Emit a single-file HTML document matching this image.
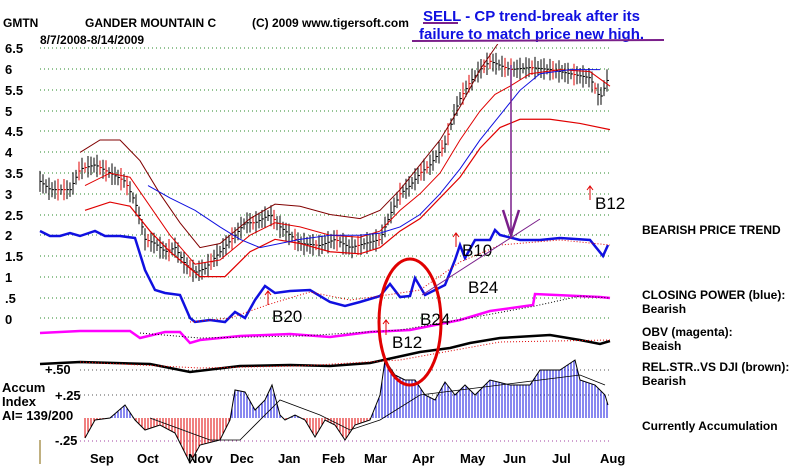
<!DOCTYPE html>
<html><head><meta charset="utf-8"><style>
body{margin:0;background:#fff;width:800px;height:468px;overflow:hidden}
svg{display:block}
text{font-family:"Liberation Sans",sans-serif}
.b{font-weight:bold;font-size:13px;fill:#000}
.t{font-weight:bold;font-size:12px;fill:#000}
.lab{font-size:17px;fill:#000}
</style></head><body>
<svg id="s" width="800" height="468" viewBox="0 0 800 468" xmlns="http://www.w3.org/2000/svg">
<g id="grid" stroke="#2a8a2a" stroke-dasharray="1,3" stroke-width="1"></g>
<g id="acc"></g>
<g id="bars"></g>
<g id="lines" fill="none"></g>
<rect x="405" y="0" width="265" height="44" fill="#fff"/>
<text x="3" y="27" class="t">GMTN</text>
<text x="85" y="27" class="t">GANDER MOUNTAIN C</text>
<text x="252" y="27" class="t">(C) 2009 www.tigersoft.com</text>
<text x="40" y="44" class="t">8/7/2008-8/14/2009</text>
<g class="b">
<text x="5" y="53">6.5</text><text x="5" y="74">6</text><text x="5" y="95">5.5</text>
<text x="5" y="116">5</text><text x="5" y="136">4.5</text><text x="5" y="157">4</text>
<text x="5" y="178">3.5</text><text x="5" y="199">3</text><text x="5" y="220">2.5</text>
<text x="5" y="240">2</text><text x="5" y="261">1.5</text><text x="5" y="282">1</text>
<text x="5" y="303">.5</text><text x="5" y="324">0</text>
<text x="45" y="374">+.50</text><text x="55" y="400">+.25</text><text x="55" y="445">-.25</text>
<text x="2" y="392">Accum</text><text x="2" y="406">Index</text><text x="2" y="420">AI= 139/200</text>
<text x="90" y="463">Sep</text><text x="137" y="463">Oct</text><text x="188" y="463">Nov</text>
<text x="230" y="463">Dec</text><text x="278" y="463">Jan</text><text x="322" y="463">Feb</text>
<text x="364" y="463">Mar</text><text x="412" y="463">Apr</text><text x="460" y="463">May</text>
<text x="503" y="463">Jun</text><text x="552" y="463">Jul</text><text x="600" y="463">Aug</text>
</g>
<g class="t">
<text x="642" y="234">BEARISH PRICE TREND</text>
<text x="642" y="299">CLOSING POWER (blue):</text><text x="642" y="313">Bearish</text>
<text x="642" y="336">OBV (magenta):</text><text x="642" y="350">Beaish</text>
<text x="642" y="371">REL.STR..VS DJI (brown):</text><text x="642" y="385">Bearish</text>
<text x="642" y="430">Currently Accumulation</text>
</g>
<g font-weight="bold" font-size="15" fill="#1010e0">
<text x="423" y="21">SELL - CP trend-break  after its</text>
<text x="419" y="39">failure to match price new high.</text>
</g>
<line x1="423" y1="23" x2="458" y2="23" stroke="#7a1f8a" stroke-width="2"/>
<line x1="412" y1="41" x2="664" y2="40" stroke="#7a1f8a" stroke-width="2"/>
<g class="lab">
<text x="595" y="209">B12</text><text x="272" y="322">B20</text><text x="392" y="348">B12</text>
<text x="420" y="325">B24</text><text x="468" y="293">B24</text><text x="462" y="256">B10</text>
</g>
<g stroke="#e00000" fill="none" stroke-width="1">
<path d="M590 200V186M587 190L590 186L593 190"/>
<path d="M268 305V291M265 295L268 291L271 295"/>
<path d="M386 335V320M383 324L386 320L389 324"/>
<path d="M456 247V233M453 237L456 233L459 237"/>
</g>
<ellipse cx="410" cy="322" rx="31" ry="63" fill="none" stroke="#e00000" stroke-width="3"/>
<g stroke="#7a1f8a" fill="none">
<line x1="511" y1="65" x2="511" y2="235" stroke-width="1.5"/>
<path d="M503 210L511 235L519 210" stroke-width="2.5"/>
<line x1="422" y1="295" x2="540" y2="219"/>
</g>
<line x1="40" y1="440" x2="40" y2="464" stroke="#806000"/>
</svg>
<script>
var NS="http://www.w3.org/2000/svg",S=document.getElementById('s');
function el(p,t,a){var e=document.createElementNS(NS,t);for(var k in a)e.setAttribute(k,a[k]);p.appendChild(e);return e;}
var G=document.getElementById('grid');
[48,69,90,111,131,152,173,194,215,235,256,277,298,318].forEach(function(y){el(G,'line',{x1:40,x2:612,y1:y,y2:y});});
[370,395,441].forEach(function(y){el(G,'line',{x1:80,x2:612,y1:y,y2:y,stroke:y==441?'#a040a0':'#555'});});
function interp(pts,x){for(var i=0;i<pts.length-1;i++){if(x>=pts[i][0]&&x<=pts[i+1][0]){var t=(x-pts[i][0])/(pts[i+1][0]-pts[i][0]);return pts[i][1]+t*(pts[i+1][1]-pts[i][1]);}}return pts[pts.length-1][1];}
function Y(p){return 318-p*41.4;}
var price=[[40,3.3],[50,3.1],[70,3.1],[80,3.6],[95,3.7],[110,3.5],[125,3.3],[135,2.8],[140,2.4],[145,1.9],[155,1.8],[165,1.6],[175,1.7],[185,1.3],[195,1.1],[205,1.2],[220,1.6],[235,2.0],[245,2.3],[255,2.3],[270,2.5],[280,2.2],[290,2.0],[300,1.8],[320,1.75],[335,1.9],[350,1.7],[365,1.8],[380,1.9],[390,2.5],[400,3.0],[410,3.2],[420,3.5],[430,3.7],[445,4.2],[455,5.0],[460,5.3],[470,5.7],[480,6.0],[490,6.2],[500,6.1],[510,6.0],[530,6.05],[550,6.0],[570,5.9],[590,5.8],[600,5.3],[608,5.8]];
var B=document.getElementById('bars');
for(var x=40;x<=608;x+=3){var p=interp(price,x),r=0.12+0.15*Math.abs(Math.sin(x*1.7));var c=(Math.sin(x*0.9)>0.85)?'#e00000':'#000';
el(B,'line',{x1:x,x2:x,y1:Y(p+r),y2:Y(p-r),stroke:c,'stroke-width':1});el(B,'line',{x1:x,x2:x+2,y1:Y(p),y2:Y(p),stroke:c});}
var L=document.getElementById('lines');
function pl(pts,col,w,dash){var d=pts.map(function(q){return q[0]+','+q[1]}).join(' ');var a={points:d,stroke:col,'stroke-width':w};if(dash)a['stroke-dasharray']=dash;el(L,'polyline',a);}
function pp(pts){return pts.map(function(q){return [q[0],Y(q[1])]});}
pl(pp([[80,4.0],[100,4.3],[120,4.3],[140,3.8],[160,3.0],[180,2.3],[200,1.7],[220,1.8],[250,2.4],[275,2.75],[300,2.7],[330,2.5],[360,2.4],[380,2.6],[400,3.1],[420,3.7],[440,4.3],[460,5.1],[480,6.0],[500,6.7]]),'#800000',1);
pl(pp([[85,3.2],[110,3.5],[130,3.4],[150,2.7],[170,2.0],[195,1.3],[220,1.4],[250,2.0],[275,2.3],[300,2.2],[330,2.0],[360,1.95],[380,2.1],[400,2.6],[420,3.0],[440,3.5],[460,4.3],[480,5.0],[495,5.4],[510,5.6],[530,5.9],[560,6.0],[590,5.95],[610,5.6]]),'#e00000',1);
pl(pp([[85,2.6],[110,2.8],[130,2.7],[150,2.1],[170,1.6],[200,1.0],[225,1.0],[250,1.6],[275,1.9],[300,1.8],[330,1.6],[360,1.55],[380,1.7],[400,2.1],[420,2.4],[440,2.9],[460,3.4],[480,4.1],[500,4.6],[520,4.8],[550,4.8],[580,4.7],[610,4.55]]),'#e00000',1.2);
pl(pp([[148,3.2],[170,2.9],[195,2.6],[220,2.2],[240,1.9],[260,1.7],[300,1.9],[330,2.0],[360,2.0],[380,2.05],[400,2.2],[420,2.5],[440,3.0],[460,3.6],[480,4.3],[500,4.9],[520,5.5],[540,5.9],[570,6.0],[600,6.0]]),'#1010e0',1);
pl([[40,231],[50,236],[60,236],[70,233],[80,236],[95,231],[105,236],[120,236],[135,238],[145,270],[155,290],[165,293],[180,295],[190,318],[195,322],[210,320],[225,322],[235,312],[245,318],[255,300],[265,286],[275,293],[290,291],[310,290],[330,302],[345,306],[360,302],[380,296],[390,284],[400,297],[410,296],[415,278],[425,295],[435,290],[445,285],[455,260],[460,245],[465,258],[475,240],[490,240],[495,230],[500,235],[520,240],[540,240],[560,238],[590,240],[603,256],[608,245]],'#1010e0',2.5);
pl([[190,322],[230,318],[270,304],[310,292],[350,300],[380,296],[420,290],[460,262],[500,245],[560,240],[610,245]],'#e00000',1,'1,2');
pl([[40,333],[80,331],[130,331],[140,338],[165,332],[180,332],[190,343],[200,340],[240,336],[290,334],[330,337],[370,332],[410,330],[440,324],[460,320],[490,311],[533,305],[535,294],[600,297],[610,298]],'#ff00ff',2.5);
pl([[140,333],[200,338],[300,336],[400,330],[470,318],[535,306],[580,296],[610,298]],'#000',1,'1,2');
pl([[40,364],[80,362],[150,364],[190,372],[240,366],[290,365],[330,366],[370,363],[420,352],[450,348],[470,343],[500,338],[550,335],[580,340],[600,344],[610,341]],'#000',2.5);
pl([[80,362],[200,368],[300,366],[400,360],[500,342],[610,340]],'#e00000',1,'1,2');
var acc=[[85,438],[95,420],[110,418],[125,405],[135,420],[145,430],[160,425],[175,433],[190,463],[200,445],[220,440],[230,420],[235,390],[245,392],[255,410],[265,400],[272,385],[280,415],[285,420],[295,415],[305,420],[315,437],[325,420],[335,425],[345,440],[355,425],[370,420],[380,395],[385,360],[395,375],[405,380],[415,380],[425,395],[435,400],[445,382],[455,395],[465,385],[475,395],[490,380],[510,385],[530,385],[540,370],[560,370],[575,360],[580,380],[595,385],[605,395],[608,405]];
var A=document.getElementById('acc');
for(var x=85;x<=608;x+=3){var v=interp(acc,x);el(A,'line',{x1:x,x2:x,y1:418,y2:v,stroke:v<418?'#1010e0':'#e00000','stroke-width':1});}
pl(acc,'#000',1);
pl([[150,418],[210,440],[240,440],[280,400],[320,415],[350,430],[380,420],[420,395],[460,390],[500,385],[540,380],[580,375],[605,385]],'#000',0.8);
</script>
</body></html>
